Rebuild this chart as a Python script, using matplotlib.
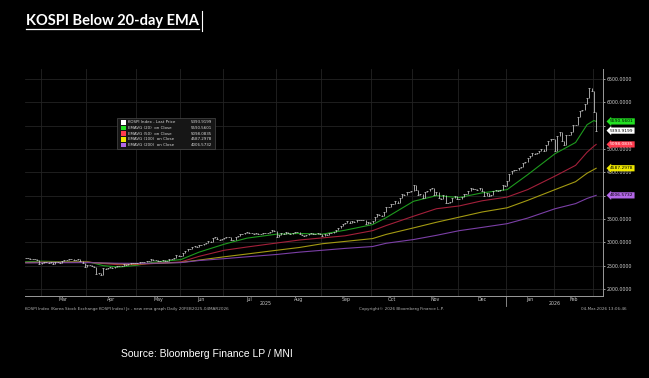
import numpy as np
import pandas as pd
import matplotlib
matplotlib.use('Agg')
import matplotlib.pyplot as plt
import matplotlib.transforms as mtransforms
from matplotlib.patches import Rectangle
from matplotlib.lines import Line2D

# ---- data ----
start_date, end_date = '2025-02-20', '2026-03-04'
krx_holidays = ['2025-03-03', '2025-05-01', '2025-05-05', '2025-05-06', '2025-06-03',
                '2025-06-06', '2025-08-15', '2025-10-03', '2025-10-06', '2025-10-07',
                '2025-10-08', '2025-10-09', '2025-12-25', '2025-12-31', '2026-01-01',
                '2026-02-16', '2026-02-17', '2026-02-18', '2026-03-02']

# KOSPI daily close, one row per month
kospi_close = (
    [2654, 2655, 2645, 2641, 2641, 2621, 2532] +
    [2558, 2580, 2576, 2563, 2570, 2537, 2574, 2583, 2566, 2610, 2612, 2628, 2637, 2643,
     2632, 2630, 2643, 2607, 2557, 2481] +
    [2521, 2505, 2486, 2465, 2328, 2334, 2293, 2445, 2432, 2455, 2477, 2447, 2470, 2483,
     2488, 2489, 2525, 2522, 2546, 2548, 2565, 2556] +
    [2559, 2573, 2578, 2577, 2607, 2608, 2640, 2621, 2626, 2603, 2603, 2625, 2593, 2592,
     2644, 2637, 2670, 2720, 2698] +
    [2698, 2770, 2812, 2856, 2855, 2907, 2920, 2894, 2946, 2950, 2972, 2977, 3021, 3014,
     3103, 3108, 3079, 3055, 3071] +
    [3089, 3116, 3116, 3054, 3059, 3114, 3133, 3183, 3175, 3202, 3215, 3190, 3192, 3188,
     3210, 3169, 3183, 3190, 3196, 3209, 3230, 3254, 3245] +
    [3119, 3147, 3198, 3169, 3227, 3210, 3189, 3190, 3224, 3225, 3178, 3151, 3131, 3153,
     3168, 3209, 3179, 3187, 3196, 3186] +
    [3142, 3172, 3164, 3200, 3205, 3219, 3260, 3314, 3344, 3395, 3407, 3449, 3413, 3461,
     3445, 3468, 3486, 3472, 3471, 3386, 3431, 3424] +
    [3455, 3549, 3610, 3585, 3561, 3657, 3748, 3748, 3815, 3823, 3883, 3845, 3941, 4042,
     4010, 4081, 4086, 4107] +
    [4221, 4121, 4004, 4026, 3953, 4073, 4106, 4150, 4170, 4011, 4089, 3953, 3929, 4004,
     3853, 3846, 3857, 3960, 3986, 3926] +
    [3920, 3977, 4036, 4028, 4100, 4154, 4143, 4135, 4111, 4167, 4090, 3999, 4056, 3994,
     4020, 4105, 4117, 4108, 4129, 4220, 4214] +
    [4309, 4457, 4525, 4551, 4552, 4586, 4624, 4693, 4723, 4797, 4840, 4904, 4885, 4910,
     4952, 4990, 4950, 5084, 5170, 5221, 5224] +
    [4950, 5288, 5371, 5163, 5090, 5298, 5302, 5354, 5522, 5507, 5677, 5808, 5846, 5969,
     6084, 6307, 6244] +
    [5792, 5393.92]
)

ema_dates = ['2025-02-20', '2025-03-04', '2025-03-17', '2025-04-01', '2025-04-10', '2025-04-21',
             '2025-05-02', '2025-05-15', '2025-06-02', '2025-06-16', '2025-07-01', '2025-07-15',
             '2025-08-01', '2025-08-18', '2025-09-01', '2025-09-15', '2025-10-01', '2025-10-16',
             '2025-11-03', '2025-11-17', '2025-12-01', '2025-12-15', '2026-01-02', '2026-01-15',
             '2026-02-02', '2026-02-13', '2026-02-25', '2026-03-03', '2026-03-04']
ema20 = [2585, 2595, 2585, 2590, 2500, 2470, 2510, 2575, 2630, 2790, 2960, 3090, 3175, 3190,
         3175, 3260, 3380, 3530, 3880, 4000, 3960, 4060, 4130, 4450, 4900, 5140, 5520, 5610,
         5590.56]
ema50 = [2570, 2575, 2575, 2580, 2545, 2520, 2525, 2545, 2580, 2700, 2830, 2900, 2985, 3050,
         3095, 3140, 3250, 3360, 3560, 3720, 3780, 3890, 3970, 4130, 4420, 4650, 4930, 5060,
         5098.08]
ema100 = [2565, 2568, 2570, 2572, 2555, 2540, 2540, 2550, 2570, 2620, 2690, 2750, 2830, 2890,
          2970, 3020, 3080, 3170, 3310, 3430, 3540, 3650, 3740, 3900, 4130, 4300, 4480, 4560,
          4587.30]
ema200 = [2560, 2562, 2563, 2565, 2558, 2552, 2550, 2552, 2565, 2610, 2650, 2690, 2740, 2790,
          2830, 2870, 2910, 2980, 3060, 3150, 3250, 3320, 3400, 3520, 3720, 3830, 3940, 3990,
          4006.57]

legend_names = ['KOSPI Index - Last Price', 'EMAVG (20)  on Close', 'EMAVG (50)  on Close',
                'EMAVG (100)  on Close', 'EMAVG (200)  on Close']
last_values = [5393.9199, 5590.5601, 5098.0835, 4587.2978, 4006.5732]
line_colors = ['#d0d0d0', '#1e9a1e', '#a3203a', '#a39a12', '#7b3fa6']
tag_colors = ['#ffffff', '#22e022', '#ff3b4e', '#f0e800', '#b468e8']
tag_text = ['black', 'black', 'white', 'black', 'black']
hidden_levels = [4000, 5500]   # right axis labels covered by value tags

# ---- trading day axis ----
dates = pd.bdate_range(start_date, end_date)
dates = dates[~dates.isin(pd.to_datetime(krx_holidays))]
n = min(len(dates), len(kospi_close))
dates = dates[:n]
close = np.array(kospi_close[:n], dtype=float)
x = np.arange(n)
ema_x = dates.get_indexer(pd.to_datetime(ema_dates))

fig = plt.figure(figsize=(6.49, 3.78), dpi=100)
fig.patch.set_facecolor('black')
ax = fig.add_axes([25 / 649, 1 - 296 / 378, 578 / 649, 227 / 378])
ax.set_facecolor('black')

# month boundaries
month_id = dates.year * 12 + dates.month
starts = list(np.where(np.diff(month_id) != 0)[0] + 1)
bounds = [s - 0.5 for s in starts] + [n + 1.5]
for b in bounds[:-1]:
    ax.axvline(b, color='#232323', lw=0.6, zorder=0)
for v in range(2000, 7000, 500):
    ax.axhline(v, color='#232323', lw=0.6, zorder=0)

# price bars
prev = np.r_[close[0], close[:-1]]
ax.vlines(x, np.minimum(prev, close), np.maximum(prev, close), color=line_colors[0],
          lw=0.55, zorder=3)
ax.plot(x, close, ls='none', marker='_', ms=1.6, mew=0.5, color=line_colors[0], zorder=3)

for series, c in zip([ema20, ema50, ema100, ema200], line_colors[1:]):
    ax.plot(ema_x, series, color=c, lw=0.8, zorder=2)

ax.set_xlim(-0.3, 253)
ax.set_ylim(1850, 6714)

for s in ['left', 'top']:
    ax.spines[s].set_visible(False)
ax.spines['bottom'].set_color('#9a9a9a')
ax.spines['right'].set_color('#9a9a9a')
ax.spines['bottom'].set_linewidth(0.7)
ax.spines['right'].set_linewidth(0.7)

# month labels
mids = [(bounds[i] + bounds[i + 1]) / 2 for i in range(len(bounds) - 2)]
names = [dates[s].strftime('%b') for s in starts[:-1]]
ax.set_xticks(mids)
ax.set_xticklabels(names)
ax.tick_params(axis='x', length=0, pad=0.8, labelsize=3.4, labelcolor='#c8c8c8')

# year labels + separator
jan = starts[names.index('Jan')] - 0.5
trans = mtransforms.blended_transform_factory(ax.transData, ax.transAxes)
ax.plot([jan, jan], [0, -0.045], transform=trans, color='#9a9a9a', lw=0.6, clip_on=False)
ax.text((ax.get_xlim()[0] + jan) / 2, -0.022, '2025', transform=trans, ha='center',
        va='top', fontsize=3.4, color='#c8c8c8')
ax.text((jan + ax.get_xlim()[1]) / 2, -0.022, '2026', transform=trans, ha='center',
        va='top', fontsize=3.4, color='#c8c8c8')

# right axis
levels = list(range(2000, 7000, 500))
ax.yaxis.tick_right()
ax.set_yticks(levels)
ax.set_yticklabels(['' if v in hidden_levels else '%.4f' % v for v in levels])
ax.tick_params(axis='y', length=1.5, width=0.5, color='#dddddd', pad=1,
               labelsize=3.4, labelcolor='#d0d0d0')

# value tags
ytrans = mtransforms.blended_transform_factory(ax.transAxes, ax.transData)
for val, fc, tc in zip(last_values, tag_colors, tag_text):
    ax.text(1.012, val, '%.4f' % val, transform=ytrans, ha='left', va='center',
            fontsize=3.2, color=tc, zorder=10, clip_on=False,
            bbox=dict(boxstyle='larrow,pad=0.25', fc=fc, ec='none'))

# legend box
lx0, lx1, ly0, ly1 = 0.159, 0.329, 0.648, 0.784
ax.add_patch(Rectangle((lx0, ly0), lx1 - lx0, ly1 - ly0, transform=ax.transAxes,
                       fc='#161616', ec='#4a4a4a', lw=0.5, zorder=6))
row_h = (ly1 - ly0) / 5.4
for i, (name, val, c) in enumerate(zip(legend_names, last_values, tag_colors)):
    yy = ly1 - row_h * (i + 0.75)
    ax.add_patch(Rectangle((lx0 + 0.007, yy - row_h * 0.4), 0.008, row_h * 0.8,
                           transform=ax.transAxes, fc=c, ec='none', zorder=7))
    ax.text(lx0 + 0.02, yy, name, transform=ax.transAxes, fontsize=2.9, color='#d8d8d8',
            va='center', ha='left', zorder=7)
    ax.text(lx1 - 0.006, yy, '%.4f' % val, transform=ax.transAxes, fontsize=2.9,
            color='#d8d8d8', va='center', ha='right', zorder=7)

# footer texts
fy = 1 - 309 / 378
fig.text(25 / 649, fy, 'KOSPI Index (Korea Stock Exchange KOSPI Index) Jc - new ema graph '
         'Daily 20FEB2025-04MAR2026', fontsize=3.0, color='#b0b0b0', va='center')
fig.text(401 / 649, fy, 'Copyright\u00a9 2026 Bloomberg Finance L.P.', fontsize=3.0,
         color='#b0b0b0', va='center', ha='center')
fig.text(627 / 649, fy, '04-Mar-2026 13:06:46', fontsize=3.0, color='#b0b0b0',
         va='center', ha='right')

# title + underline
title = fig.text(26 / 649, 1 - 21 / 378, 'KOSPI Below 20-day EMA', fontsize=10.5,
                 fontweight='bold', family='Lato', color='white', va='center')
fig.canvas.draw()
bb = title.get_window_extent()
W, H = fig.bbox.width, fig.bbox.height
fig.add_artist(Line2D([bb.x0 / W, bb.x1 / W], [(bb.y0 - 1) / H, (bb.y0 - 1) / H],
                      transform=fig.transFigure, color='white', lw=0.9))
fig.add_artist(Line2D([(bb.x1 + 3) / W, (bb.x1 + 3) / W], [1 - 31 / 378, 1 - 11 / 378],
                      transform=fig.transFigure, color='white', lw=0.8))

fig.text(121 / 649, 1 - 354 / 378, 'Source: Bloomberg Finance LP / MNI', fontsize=7.5,
         family='Liberation Sans', color='white', va='center')

fig.savefig('out.png', dpi=100, facecolor='black')
